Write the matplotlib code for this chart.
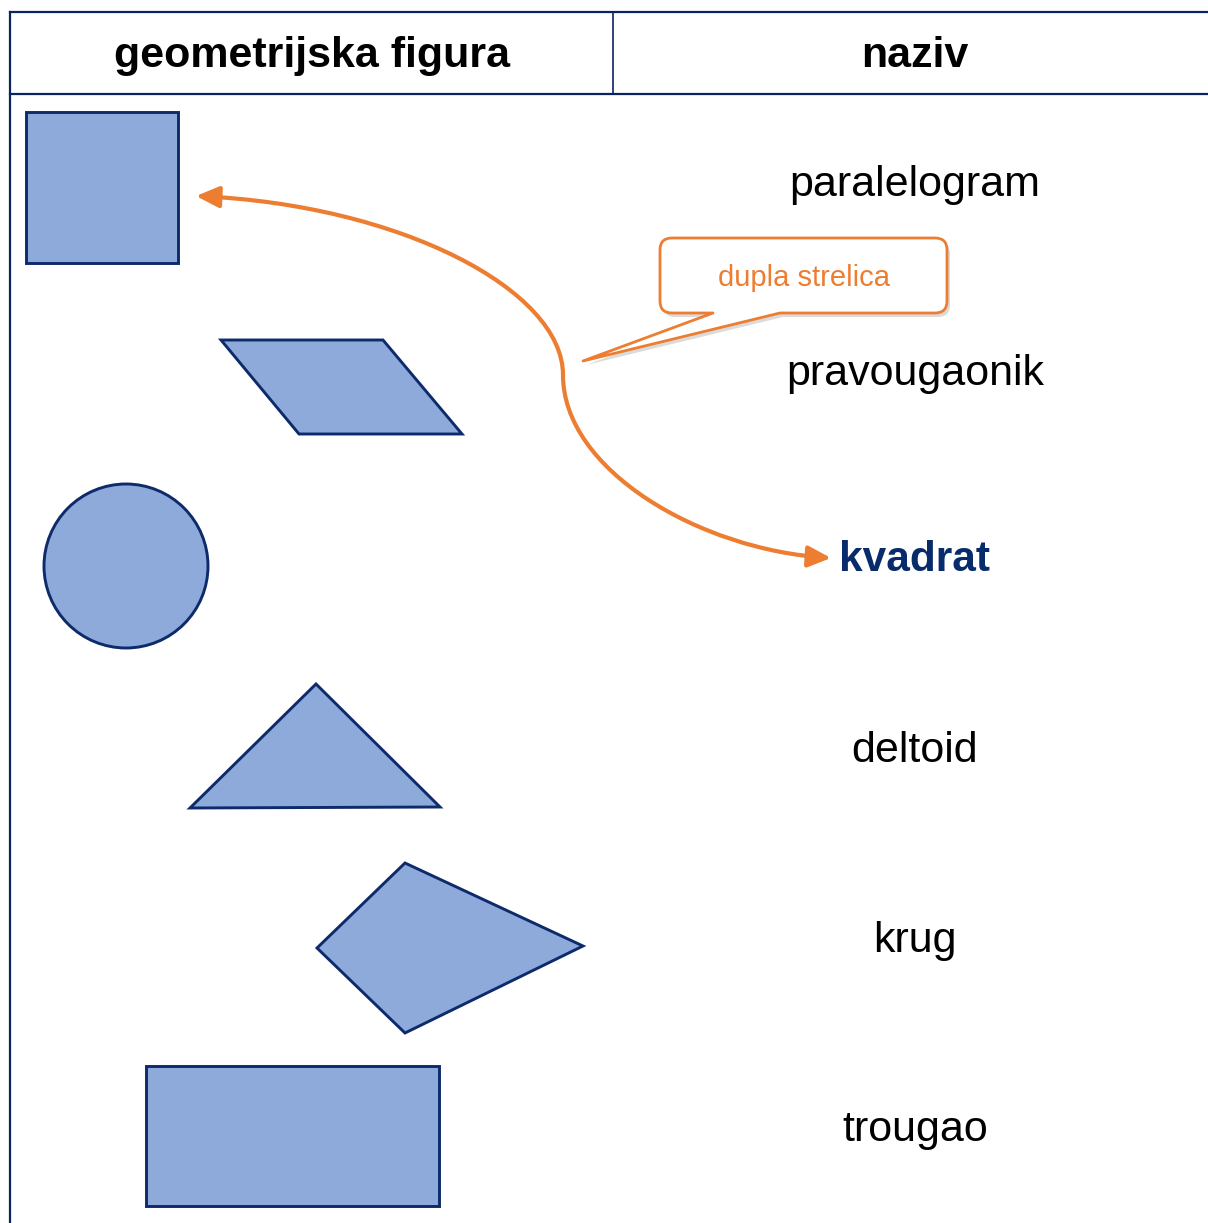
import numpy as np
import matplotlib
matplotlib.use('Agg')
import matplotlib.pyplot as plt
from matplotlib.patches import Polygon, Circle, PathPatch, FancyArrowPatch
from matplotlib.path import Path

plt.rcParams['font.family'] = ['Liberation Sans', 'DejaVu Sans']

# header texts
headers = ['geometrijska figura', 'naziv']
# names in the right column (top to bottom)
names = ['paralelogram', 'pravougaonik', 'kvadrat', 'deltoid', 'krug', 'trougao']
name_y = [185, 374, 560, 751, 941, 1130]
highlight = 'kvadrat'

# shapes in the left column (pixel coords of the picture)
square = [(26, 112), (178, 112), (178, 263), (26, 263)]
parallelogram = [(221, 340), (383, 340), (462, 434), (299, 434)]
circle_c, circle_r = (126, 566), 82
triangle = [(190, 808), (316, 684), (440, 807)]
kite = [(317, 948), (405, 863), (583, 946), (405, 1033)]
rectangle = [(146, 1066), (439, 1066), (439, 1206), (146, 1206)]

# double arrow: two cubic pieces
arrow_pts = [(196, 196), (400, 205), (563, 290), (563, 375),
             (563, 470), (700, 550), (831, 558)]

callout_text = 'dupla strelica'

W, H = 1208, 1223
fill = '#8eaadb'
edge = '#0d2a6b'
line_col = '#0a2463'
orange = '#ed7d31'

fig = plt.figure(figsize=(W / 100, H / 100), dpi=100)
ax = fig.add_axes([0, 0, 1, 1])
ax.set_xlim(0, W)
ax.set_ylim(H, 0)
ax.axis('off')

# table grid
lw_tab = 1.6
ax.plot([10, W], [12, 12], color=line_col, lw=lw_tab)
ax.plot([10, W], [94, 94], color=line_col, lw=lw_tab)
ax.plot([10, 10], [12, H], color=line_col, lw=lw_tab)
ax.plot([613, 613], [12, 94], color=line_col, lw=1.2)

ax.text(312, 56, headers[0], fontsize=31, fontweight='bold', ha='center', va='center')
ax.text(915, 56, headers[1], fontsize=31, fontweight='bold', ha='center', va='center')

for nm, y in zip(names, name_y):
    if nm == highlight:
        ax.text(915, y, nm, fontsize=30.5, fontweight='bold', color='#082b6b',
                ha='center', va='center')
    else:
        ax.text(915, y, nm, fontsize=31, ha='center', va='center')

# shapes
for pts in [square, parallelogram, triangle, kite, rectangle]:
    ax.add_patch(Polygon(pts, closed=True, facecolor=fill, edgecolor=edge, lw=2.1))
ax.add_patch(Circle(circle_c, circle_r, facecolor=fill, edgecolor=edge, lw=2.1))

# curved double arrow
codes = [Path.MOVETO] + [Path.CURVE4] * 6
arr = FancyArrowPatch(path=Path(arrow_pts, codes),
                      arrowstyle='<|-|>,head_length=1.4,head_width=0.65',
                      mutation_scale=10, color=orange, lw=3.0,
                      shrinkA=0, shrinkB=0)
ax.add_patch(arr)

# callout box with tail
x0, y0, x1, y1, r = 660, 238, 947, 313, 12
tail_a, tail_b, tip = 713, 780, (583, 361)
verts = [(x0 + r, y0), (x1 - r, y0), (x1, y0), (x1, y0 + r),
         (x1, y1 - r), (x1, y1), (x1 - r, y1),
         (tail_b, y1), tip, (tail_a, y1),
         (x0 + r, y1), (x0, y1), (x0, y1 - r),
         (x0, y0 + r), (x0, y0), (x0 + r, y0)]
cc = [Path.MOVETO, Path.LINETO, Path.CURVE3, Path.CURVE3,
      Path.LINETO, Path.CURVE3, Path.CURVE3,
      Path.LINETO, Path.LINETO, Path.LINETO,
      Path.LINETO, Path.CURVE3, Path.CURVE3,
      Path.LINETO, Path.CURVE3, Path.CURVE3]
callout = Path(verts, cc)
shadow = Path(np.array(verts) + np.array([3, 4]), cc)
ax.add_patch(PathPatch(shadow, facecolor='#999999', edgecolor='none', alpha=0.35))
ax.add_patch(PathPatch(callout, facecolor='white', edgecolor=orange, lw=2.0,
                       joinstyle='round'))
ax.text((x0 + x1) / 2, 278, callout_text, fontsize=21, color=orange,
        ha='center', va='center')

fig.savefig('out.png', dpi=100)
